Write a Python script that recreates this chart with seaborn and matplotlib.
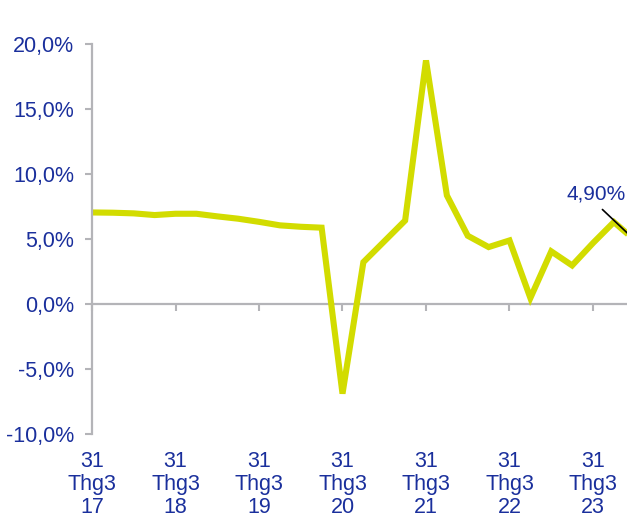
import matplotlib
matplotlib.use("Agg")
import matplotlib.pyplot as plt
import seaborn as sns
import pandas as pd
import numpy as np

# Quarterly growth, Q1 2017 .. Q3 2023
quarters = list(range(27))
growth = [7.02, 7.0, 6.95, 6.82, 6.92, 6.92, 6.72, 6.54, 6.3, 6.03, 5.92, 5.85,
          -6.9, 3.2, 4.8, 6.4, 18.7, 8.33, 5.23, 4.36, 4.87, 0.45, 4.03, 2.95,
          4.67, 6.28, 4.9]
tick_pos = [0, 4, 8, 12, 16, 20, 24]
tick_labels = ["31\nThg3\n17", "31\nThg3\n18", "31\nThg3\n19", "31\nThg3\n20",
               "31\nThg3\n21", "31\nThg3\n22", "31\nThg3\n23"]
yticks = [-10, -5, 0, 5, 10, 15, 20]
ytick_labels = ["-10,0%", "-5,0%", "0,0%", "5,0%", "10,0%", "15,0%", "20,0%"]
last_label = "4,90%"

df = pd.DataFrame({"q": quarters, "g": growth})

sns.set_style("white")
plt.rcParams["font.family"] = ["Liberation Sans", "DejaVu Sans"]

NAVY = "#1a2f9c"
GRAY = "#b4b4b8"
LINE = "#d2dc00"

fig = plt.figure(figsize=(6.27, 5.2), dpi=100)
ax = fig.add_axes([92/627, 1-434/520, 1-92/627, (434-43.5)/520])

sns.lineplot(data=df, x="q", y="g", ax=ax, color=LINE, linewidth=4.4,
             solid_joinstyle="miter", solid_capstyle="butt")

ax.set_xlim(0, (627-92)/20.875)
ax.set_ylim(-10, 20)
ax.set_xlabel("")
ax.set_ylabel("")

for s in ["top", "right", "bottom"]:
    ax.spines[s].set_visible(False)
ax.spines["left"].set_color(GRAY)
ax.spines["left"].set_linewidth(1.6)

ax.set_yticks(yticks)
ax.set_yticklabels(ytick_labels)
ax.tick_params(axis="y", direction="out", length=5, width=1.5, color=GRAY,
               labelcolor=NAVY, labelsize=15.5, pad=8, left=True)

ax.set_xticks(tick_pos)
ax.set_xticklabels(tick_labels, linespacing=1.15)
ax.tick_params(axis="x", length=0, labelcolor=NAVY, labelsize=15.5, pad=12)

# zero line with tick marks
sec = ax.secondary_xaxis(1/3)
sec.set_xticks(tick_pos)
sec.set_xticklabels([""] * len(tick_pos))
sec.spines["bottom"].set_color(GRAY)
sec.spines["bottom"].set_linewidth(1.6)
sec.tick_params(axis="x", direction="out", length=5, width=1.5, color=GRAY)

ax.annotate(last_label, xy=(quarters[-1], growth[-1]), xytext=(24.14, 8.45),
            ha="center", va="center", color=NAVY, fontsize=15,
            arrowprops=dict(arrowstyle="-", color="black", lw=1.2,
                            shrinkA=3, shrinkB=0, relpos=(0.5, 0.0)),
            annotation_clip=False)

fig.savefig("out.png", dpi=100)
